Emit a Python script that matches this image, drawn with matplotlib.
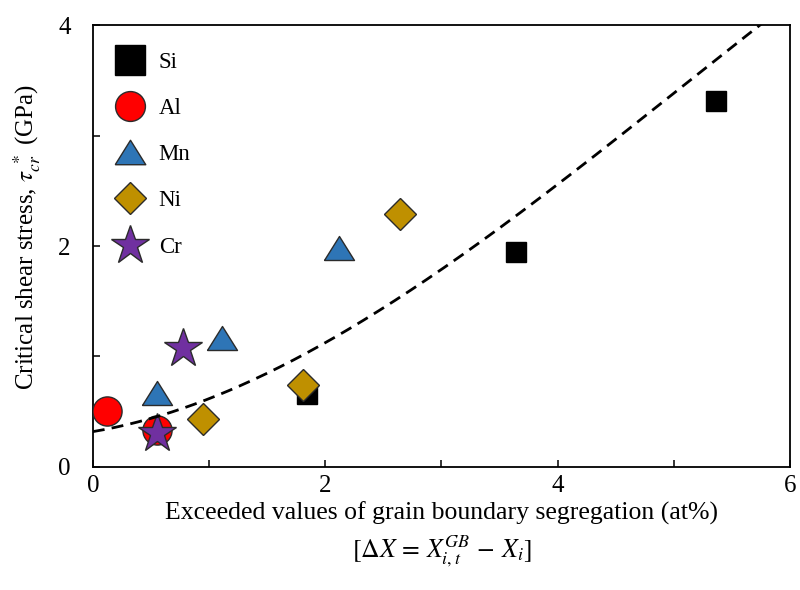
import numpy as np
import matplotlib
matplotlib.use("Agg")
import matplotlib.pyplot as plt
from matplotlib.lines import Line2D

plt.rcParams["font.family"] = ["Liberation Serif", "DejaVu Serif"]
plt.rcParams["mathtext.fontset"] = "stix"

# Critical shear stress vs. excess grain-boundary segregation, per solute
elements = ["Si", "Al", "Mn", "Ni", "Cr"]
si_x = [1.84, 3.64, 5.36]
si_y = [0.66, 1.95, 3.31]
al_x = [0.12, 0.555]
al_y = [0.51, 0.335]
mn_x = [0.555, 1.11, 2.115]
mn_y = [0.67, 1.17, 1.98]
ni_x = [0.945, 1.81, 2.64]
ni_y = [0.43, 0.74, 2.29]
cr_x = [0.555, 0.78]
cr_y = [0.31, 1.08]

# cubic trend line: tau = c0 + c1*dX + c2*dX^2 + c3*dX^3
trend_coef = [0.32, 0.177, 0.1296, -0.0085]
trend_range = [0.0, 5.8]

x_ticks = [0, 1, 2, 3, 4, 5, 6]
x_tick_labels = ["0", "", "2", "", "4", "", "6"]
y_ticks = [0, 1, 2, 3, 4]
y_tick_labels = ["0", "", "2", "", "4"]

tri = [(-1, -0.8), (1, -0.8), (0, 0.8), (-1, -0.8)]
edge = "#2b2b2b"
styles = {
    "Si": dict(marker="s", ms=15, mfc="#000000", mec="#000000", legend_ms=22),
    "Al": dict(marker="o", ms=21, mfc="#ff0000", mec=edge, legend_ms=21.5),
    "Mn": dict(marker=tri, ms=21.6, mfc="#2e75b6", mec=edge, legend_ms=22),
    "Ni": dict(marker="D", ms=15.8, mfc="#bf9000", mec=edge, legend_ms=16),
    "Cr": dict(marker="*", ms=29.5, mfc="#7030a0", mec=edge, legend_ms=29.5),
}
series = {"Si": (si_x, si_y), "Al": (al_x, al_y), "Mn": (mn_x, mn_y),
          "Ni": (ni_x, ni_y), "Cr": (cr_x, cr_y)}

fig = plt.figure(figsize=(8, 5.9), dpi=100)
ax = fig.add_axes([0.116, 0.2085, 0.8715, 0.7491])

handles = []
for name in elements:
    st = styles[name]
    xs, ys = series[name]
    ax.plot(xs, ys, ls="none", marker=st["marker"], ms=st["ms"],
            mfc=st["mfc"], mec=st["mec"], mew=1.0, zorder=3)
    handles.append(Line2D([], [], ls="none", marker=st["marker"],
                          ms=st["legend_ms"], mfc=st["mfc"], mec=st["mec"],
                          mew=1.0))

xf = np.linspace(trend_range[0], trend_range[1], 300)
yf = np.polynomial.polynomial.polyval(xf, trend_coef)
ax.plot(xf, yf, color="black", lw=2.0, ls=(0, (4.3, 2.6)), zorder=4)

ax.set_xlim(0, 6)
ax.set_ylim(0, 4)
ax.set_xticks(x_ticks)
ax.set_xticklabels(x_tick_labels)
ax.set_yticks(y_ticks)
ax.set_yticklabels(y_tick_labels)
ax.tick_params(axis="both", direction="in", length=5, width=1.1,
               labelsize=18, top=False, right=False)
ax.tick_params(axis="x", pad=6)
ax.tick_params(axis="y", pad=16)
for sp in ax.spines.values():
    sp.set_linewidth(1.3)

ax.set_ylabel(r"Critical shear stress, $\tau_{cr}^{\ *}$ (GPa)", fontsize=18)
ax.yaxis.set_label_coords(-0.072, 0.52)
ax.set_xlabel("Exceeded values of grain boundary segregation (at%)\n"
              r"$[\Delta X\,=\,X_{i,t}^{GB}\,-\,X_i]$", fontsize=18.5,
              labelpad=3, linespacing=1.35)

ax.legend(handles, elements, loc="upper left", frameon=False, fontsize=16.5,
          labelspacing=1.1, handlelength=1.5, handletextpad=0.5,
          borderaxespad=0, borderpad=0, bbox_to_anchor=(0.0287, 0.94))

fig.savefig("out.png", dpi=100)
